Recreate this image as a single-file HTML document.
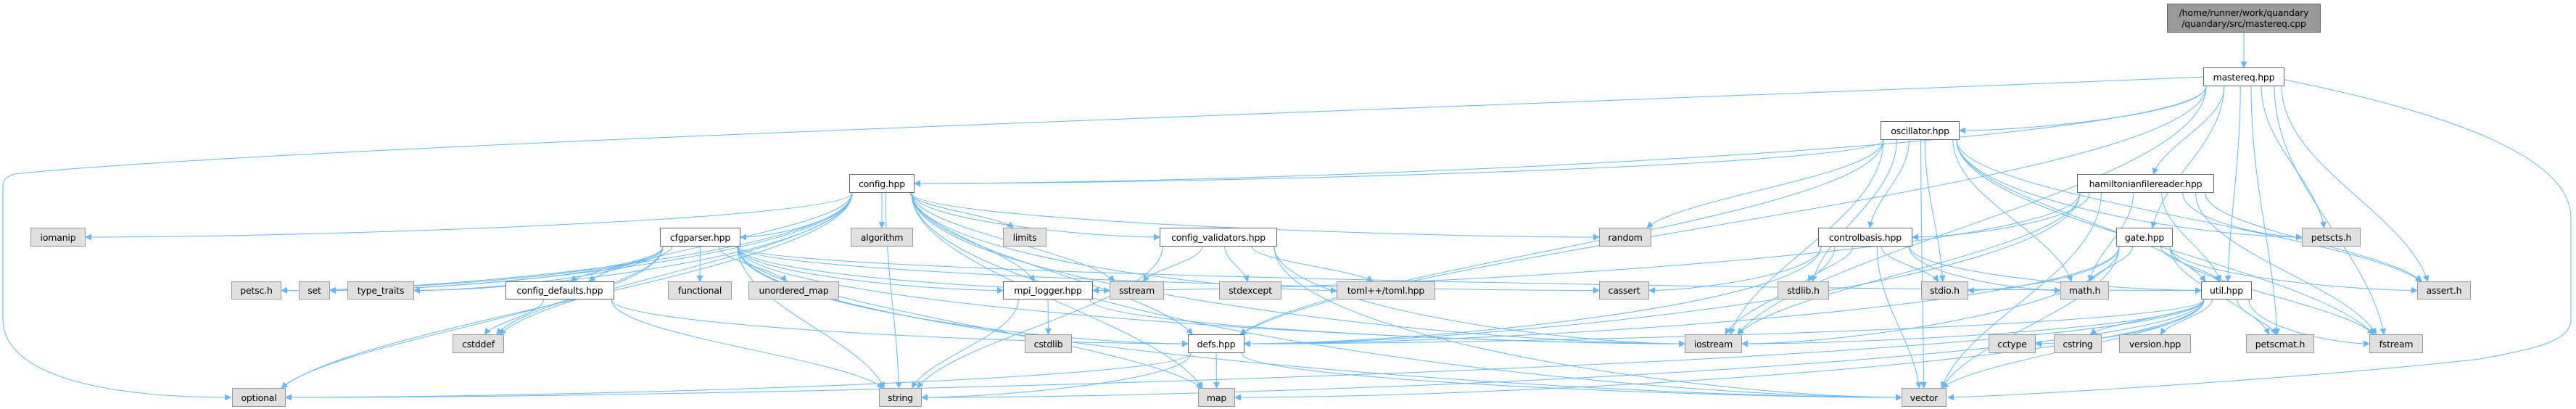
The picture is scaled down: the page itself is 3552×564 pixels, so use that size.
<!DOCTYPE html>
<html><head><meta charset="utf-8"><style>
html,body{margin:0;padding:0;background:#fff;}
#wrap{position:relative;width:3552px;height:564px;overflow:hidden;}
svg{position:absolute;left:0;top:0;}
.n{position:absolute;box-sizing:border-box;font-family:"DejaVu Sans","Liberation Sans",sans-serif;font-size:12.5px;color:#000;display:flex;align-items:center;justify-content:center;white-space:nowrap;letter-spacing:-0.2px}
.g{background:#e0e0e0;border:1px solid #999;}
.w{background:#fff;border:1px solid #666;}
.t{background:#999;border:1px solid #666;flex-direction:column;line-height:15px;}
</style></head><body><div id="wrap">
<svg id="s" width="3552" height="564" xmlns="http://www.w3.org/2000/svg">
<defs><marker id="a" viewBox="0 0 10 10" refX="9" refY="5" markerWidth="9" markerHeight="9" markerUnits="userSpaceOnUse" orient="auto"><path d="M0,0 L10,5 L0,10 z" fill="#63b8ff"/></marker></defs>
<g id="e" fill="none" stroke="#63b8ff" stroke-width="1"></g>
</svg>
<div class="n t" style="left:2988px;top:5px;width:212px;height:40px"><span>/home/runner/work/quandary</span><span>/quandary/src/mastereq.cpp</span></div>
<div class="n w" style="left:3038px;top:93px;width:112px;height:26px">mastereq.hpp</div>
<div class="n w" style="left:2593px;top:167px;width:109px;height:26px">oscillator.hpp</div>
<div class="n w" style="left:1171px;top:240px;width:90px;height:26px">config.hpp</div>
<div class="n w" style="left:2864px;top:240px;width:189px;height:26px">hamiltonianfilereader.hpp</div>
<div class="n g" style="left:42px;top:314px;width:76px;height:26px">iomanip</div>
<div class="n w" style="left:910px;top:314px;width:111px;height:26px">cfgparser.hpp</div>
<div class="n g" style="left:1173px;top:314px;width:86px;height:26px">algorithm</div>
<div class="n g" style="left:1383px;top:314px;width:60px;height:26px">limits</div>
<div class="n w" style="left:1599px;top:314px;width:162px;height:26px">config_validators.hpp</div>
<div class="n g" style="left:2205px;top:314px;width:72px;height:26px">random</div>
<div class="n w" style="left:2507px;top:314px;width:130px;height:26px">controlbasis.hpp</div>
<div class="n w" style="left:2918px;top:314px;width:78px;height:26px">gate.hpp</div>
<div class="n g" style="left:3174px;top:314px;width:81px;height:26px">petscts.h</div>
<div class="n g" style="left:319px;top:388px;width:69px;height:25px">petsc.h</div>
<div class="n g" style="left:412px;top:388px;width:43px;height:25px">set</div>
<div class="n g" style="left:479px;top:388px;width:92px;height:25px">type_traits</div>
<div class="n w" style="left:697px;top:388px;width:150px;height:25px">config_defaults.hpp</div>
<div class="n g" style="left:921px;top:388px;width:88px;height:25px">functional</div>
<div class="n g" style="left:1032px;top:388px;width:125px;height:25px">unordered_map</div>
<div class="n w" style="left:1383px;top:388px;width:124px;height:25px">mpi_logger.hpp</div>
<div class="n g" style="left:1530px;top:388px;width:75px;height:25px">sstream</div>
<div class="n g" style="left:1681px;top:388px;width:86px;height:25px">stdexcept</div>
<div class="n g" style="left:1843px;top:388px;width:136px;height:25px">toml++/toml.hpp</div>
<div class="n g" style="left:2205px;top:388px;width:69px;height:25px">cassert</div>
<div class="n g" style="left:2451px;top:388px;width:71px;height:25px">stdlib.h</div>
<div class="n g" style="left:2649px;top:388px;width:65px;height:25px">stdio.h</div>
<div class="n g" style="left:2841px;top:388px;width:67px;height:25px">math.h</div>
<div class="n w" style="left:3035px;top:388px;width:70px;height:25px">util.hpp</div>
<div class="n g" style="left:3333px;top:388px;width:74px;height:25px">assert.h</div>
<div class="n g" style="left:624px;top:461px;width:71px;height:26px">cstddef</div>
<div class="n g" style="left:1413px;top:461px;width:65px;height:26px">cstdlib</div>
<div class="n w" style="left:1638px;top:461px;width:78px;height:26px">defs.hpp</div>
<div class="n g" style="left:2323px;top:461px;width:79px;height:26px">iostream</div>
<div class="n g" style="left:2742px;top:461px;width:65px;height:26px">cctype</div>
<div class="n g" style="left:2832px;top:461px;width:66px;height:26px">cstring</div>
<div class="n g" style="left:2922px;top:461px;width:99px;height:26px">version.hpp</div>
<div class="n g" style="left:3097px;top:461px;width:94px;height:26px">petscmat.h</div>
<div class="n g" style="left:3267px;top:461px;width:74px;height:26px">fstream</div>
<div class="n g" style="left:320px;top:535px;width:74px;height:26px">optional</div>
<div class="n g" style="left:1212px;top:535px;width:59px;height:26px">string</div>
<div class="n g" style="left:1652px;top:535px;width:51px;height:26px">map</div>
<div class="n g" style="left:2622px;top:535px;width:62px;height:26px">vector</div>
</div>
<script>
var N={
top:[2988,3200,5,45],mastereq:[3038,3150,93,119],osc:[2593,2702,167,193],config:[1171,1261,240,266],ham:[2864,3053,240,266],
iomanip:[42,118,314,340],cfg:[910,1021,314,340],algorithm:[1173,1259,314,340],limits:[1383,1443,314,340],cval:[1599,1761,314,340],random:[2205,2277,314,340],cb:[2507,2637,314,340],gate:[2918,2996,314,340],petscts:[3174,3255,314,340],
petsc:[319,388,388,413],set:[412,455,388,413],tt:[479,571,388,413],cdef:[697,847,388,413],functional:[921,1009,388,413],umap:[1032,1157,388,413],mpi:[1383,1507,388,413],sstream:[1530,1605,388,413],stdexcept:[1681,1767,388,413],toml:[1843,1979,388,413],cassert:[2205,2274,388,413],stdlib:[2451,2522,388,413],stdio:[2649,2714,388,413],math:[2841,2908,388,413],util:[3035,3105,388,413],assert:[3333,3407,388,413],
cstddef:[624,695,461,487],cstdlib:[1413,1478,461,487],defs:[1638,1716,461,487],iostream:[2323,2402,461,487],cctype:[2742,2807,461,487],cstring:[2832,2898,461,487],version:[2922,3021,461,487],petscmat:[3097,3191,461,487],fstream:[3267,3341,461,487],
optional:[320,394,535,561],string:[1212,1271,535,561],map:[1652,1703,535,561],vector:[2622,2684,535,561]};
var E=[['top','mastereq'],
['mastereq','osc'],['mastereq','config'],['mastereq','ham'],['mastereq','gate'],['mastereq','util'],['mastereq','petscts'],['mastereq','assert'],['mastereq','defs'],['mastereq','iostream'],['mastereq','petscmat'],['mastereq','fstream'],
['osc','config'],['osc','cb'],['osc','random'],['osc','stdlib'],['osc','stdio'],['osc','iostream'],['osc','vector'],['osc','util'],['osc','defs'],['osc','assert'],['osc','fstream'],['osc','math'],['osc','petscts'],
['config','iomanip'],['config','optional'],['config','petsc'],['config','set'],['config','tt'],['config','cstddef'],['config','string'],['config','cfg'],['config','algorithm'],['config','limits'],['config','cval'],['config','mpi'],['config','defs'],['config','cdef'],['config','random'],['config','toml'],['config','sstream'],['config','vector'],['config','iostream'],['config','map'],
['cfg','functional'],['cfg','umap'],['cfg','string'],['cfg','map'],['cfg','optional'],['cfg','set'],['cfg','tt'],['cfg','petsc'],['cfg','cstddef'],['cfg','cdef'],['cfg','defs'],['cfg','mpi'],['cfg','sstream'],['cfg','vector'],['cfg','iostream'],['cfg','cassert'],['cfg','util'],
['cdef','cstddef'],['cdef','string'],['cdef','defs'],
['cval','sstream'],['cval','stdexcept'],['cval','string'],['cval','toml'],['cval','vector'],['cval','iostream'],
['mpi','cstdlib'],['mpi','iostream'],['mpi','string'],
['cb','cassert'],['cb','stdlib'],['cb','stdio'],['cb','math'],['cb','vector'],['cb','defs'],['cb','util'],['cb','iostream'],
['ham','defs'],['ham','iostream'],['ham','petscts'],['ham','assert'],['ham','fstream'],['ham','math'],['ham','cb'],['ham','vector'],['ham','mpi'],['ham','util'],
['gate','stdio'],['gate','math'],['gate','util'],['gate','petscmat'],['gate','assert'],['gate','fstream'],['gate','vector'],['gate','defs'],['gate','iostream'],
['util','cctype'],['util','cstring'],['util','version'],['util','petscmat'],['util','fstream'],['util','vector'],['util','defs'],['util','iostream'],['util','string'],['util','map'],['util','optional'],
['defs','map'],['defs','string'],['defs','vector'],['defs','optional']];
var g=document.getElementById('e'),h='';
E.forEach(function(p){var s=N[p[0]],t=N[p[1]];
var sx=(s[0]+s[1])/2,sy=s[3],tx,ty;
var dx=((t[0]+t[1])/2)-sx;
sx+=Math.max(-(s[1]-s[0])/2+4,Math.min((s[1]-s[0])/2-4,dx*0.2));
if(t[2]>=s[3]){tx=(t[0]+t[1])/2;ty=t[2];
 var hd=Math.abs(tx-sx),vd=ty-sy;
 var side=false;
 if(hd>4*vd){ty=(t[2]+t[3])/2; tx=(tx>sx)?t[0]:t[1]; side=true;}
 else {tx+=Math.max(-(t[1]-t[0])/2+6,Math.min((t[1]-t[0])/2-6,(sx-tx)*0.1));}
 if(side){
  h+='<path d="M'+sx+','+sy+' C'+sx+','+(sy+(ty-sy)*0.6)+' '+(tx+(sx-tx)*0.3)+','+ty+' '+tx+','+ty+'" marker-end="url(#a)"/>';
 } else {
  h+='<path d="M'+sx+','+sy+' C'+sx+','+(sy+(ty-sy)*0.4)+' '+(tx+(sx-tx)*0.15)+','+(ty-(ty-sy)*0.35)+' '+tx+','+ty+'" marker-end="url(#a)"/>';
 }
}});
h+='<path d="M3038,106 C2000,150 400,200 20,240 C5,245 4,250 4,260 L4,440 C4,520 150,548 318,548" marker-end="url(#a)"/>';
h+='<path d="M3150,110 C3300,140 3545,200 3545,300 L3545,440 C3545,470 3500,480 3420,495 C3200,520 2800,545 2686,548" marker-end="url(#a)"/>';
g.innerHTML=h;
</script>
</body></html>
